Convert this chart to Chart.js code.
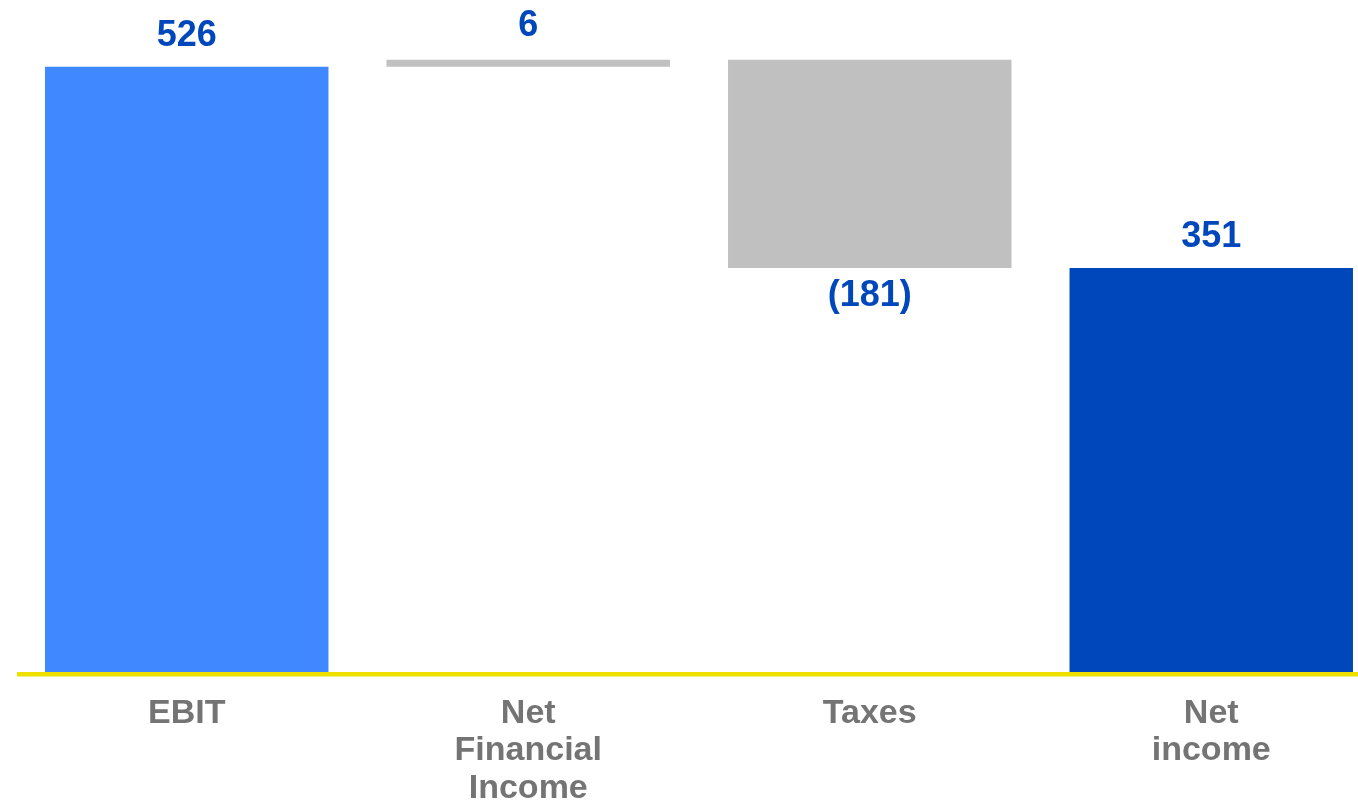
<!DOCTYPE html>
<html>
<head>
<meta charset="utf-8">
<script src="https://cdn.jsdelivr.net/npm/chart.js@4"></script>
<style>
  html, body { margin: 0; padding: 0; background: #ffffff; overflow: hidden; }
  #wrap { position: relative; width: 1382px; height: 803px; }
</style>
</head>
<body>
<div id="wrap"><canvas id="c"></canvas></div>
<script>
// ---- data ----
const categories = ["EBIT", ["Net", "Financial", "Income"], "Taxes", ["Net", "income"]];
const amounts = [526, 6, -181, 351];
const kinds = ["total", "delta", "delta", "total"];
const valueLabels = ["526", "6", "(181)", "351"];
const barColors = ["#3F88FF", "#C0C0C0", "#C0C0C0", "#0047BB"];

// build floating ranges from the amounts
let running = 0;
const ranges = amounts.map((v, i) => {
  if (kinds[i] === "total") { running = v; return [0, v]; }
  const start = running; running += v;
  return [Math.min(start, running), Math.max(start, running)];
});

const FONT = "'Liberation Sans', Arial, Helvetica, sans-serif";

const baselinePlugin = {
  id: 'baseline',
  afterDatasetsDraw(chart) {
    const { ctx, chartArea } = chart;
    ctx.save();
    ctx.fillStyle = "#EFE000";
    ctx.fillRect(chartArea.left + 1, chartArea.bottom, chartArea.right - chartArea.left, 4.5);
    ctx.restore();
  }
};

const valueLabelPlugin = {
  id: 'valueLabels',
  afterDatasetsDraw(chart) {
    const ctx = chart.ctx;
    const meta = chart.getDatasetMeta(0);
    ctx.save();
    ctx.font = "bold 36px " + FONT;
    ctx.fillStyle = "#0047BB";
    ctx.textAlign = "center";
    ctx.textBaseline = "alphabetic";
    meta.data.forEach((bar, i) => {
      const props = bar.getProps(['x', 'y', 'base'], true);
      const top = Math.min(props.y, props.base);
      const bottom = Math.max(props.y, props.base);
      if (amounts[i] < 0) {
        ctx.fillText(valueLabels[i], props.x, bottom + 38);
      } else {
        const gap = kinds[i] === "delta" ? 24 : 21;
        ctx.fillText(valueLabels[i], props.x, top - gap);
      }
    });
    ctx.restore();
  }
};

new Chart(document.getElementById('c'), {
  type: 'bar',
  data: {
    labels: categories,
    datasets: [{
      data: ranges,
      backgroundColor: barColors,
      borderWidth: 0,
      categoryPercentage: 1,
      barPercentage: 0.83
    }]
  },
  options: {
    responsive: true,
    maintainAspectRatio: false,
    animation: false,
    layout: { padding: { left: 16, right: 0, top: 0, bottom: 0 } },
    plugins: {
      legend: { display: false },
      tooltip: { enabled: false }
    },
    scales: {
      y: {
        display: false,
        min: 0,
        max: 584
      },
      x: {
        offset: true,
        grid: { display: false, drawTicks: false },
        border: { display: false },
        ticks: {
          color: "#747474",
          padding: 23,
          maxRotation: 0,
          autoSkip: false,
          font: { family: FONT, size: 34, weight: 'bold', lineHeight: 1.1 }
        },
        afterFit(scale) { scale.height = 131; }
      }
    }
  },
  plugins: [valueLabelPlugin, baselinePlugin]
});
</script>
</body>
</html>
